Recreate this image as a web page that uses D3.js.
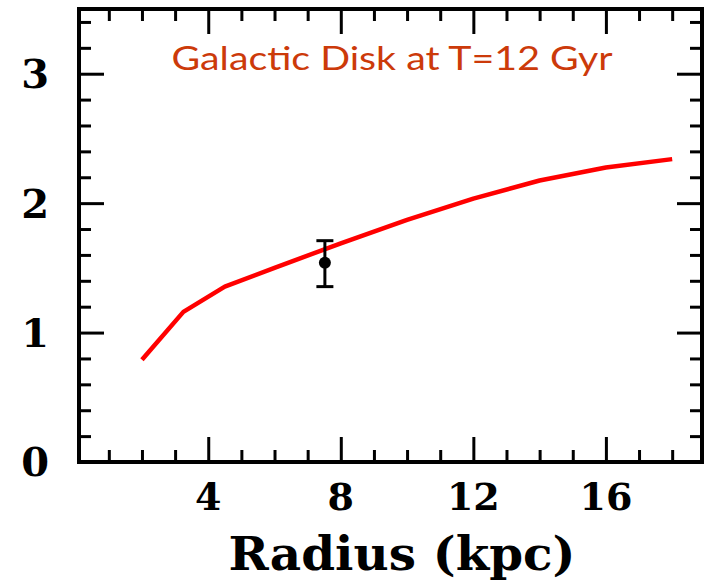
<!DOCTYPE html>
<html lang="en">
  <head>
    <meta charset="utf-8">
    <title>Galactic Disk at T=12 Gyr</title>
    <script src="https://cdn.jsdelivr.net/npm/d3@7"></script>
    <style>
      body { margin: 0; background: #fff; }
    </style>
  </head>
  <body>
    <div id="main"></div>
  </body>

  <script type="text/javascript">

      // model curve (radius in kpc)
      const radius = [2, 3.25, 4.5, 6, 8, 10, 12, 14, 16, 18];
      const model  = [0.79, 1.16, 1.355, 1.50, 1.69, 1.87, 2.035, 2.175, 2.275, 2.34];

      // observed point with error bar
      const obsR   = [7.52];
      const obsVal = [1.54];
      const obsLo  = [1.355];
      const obsHi  = [1.71];

      const xMajor = [4, 8, 12, 16];
      const yMajor = [0, 1, 2, 3];
      const xMinor = d3.range(1, 19).filter(d => d % 4 !== 0);
      const yMinor = d3.range(1, 18).map(d => d * 0.2).filter(d => Math.abs(d - Math.round(d)) > 0.01);

      const title = "Galactic Disk at T=12 Gyr";
      const xTitle = "Radius (kpc)";

      const W = 709, H = 581;
      const mLeft = 79, mRight = 702, mTop = 9, mBottom = 462;

      const svg = d3.select("#main").append("svg")
        .attr("width", W)
        .attr("height", H);

      const x = d3.scaleLinear().domain([0.1, 18.9]).range([mLeft, mRight]);
      const y = d3.scaleLinear().domain([0, 3.5]).range([mBottom, mTop]);

      // ticks, pointing inward on all four sides
      function tickAxis(axis, tx, ty, vals, len) {
        const g = svg.append("g")
          .attr("transform", `translate(${tx},${ty})`)
          .call(axis.tickValues(vals).tickSize(-len).tickSizeOuter(0).tickFormat(""));
        g.select(".domain").remove();
        g.selectAll("line").attr("stroke", "#000").attr("stroke-width", 3);
      }
      tickAxis(d3.axisBottom(x), 0, mBottom, xMajor, 25);
      tickAxis(d3.axisBottom(x), 0, mBottom, xMinor, 12);
      tickAxis(d3.axisTop(x), 0, mTop, xMajor, 25);
      tickAxis(d3.axisTop(x), 0, mTop, xMinor, 12);
      tickAxis(d3.axisLeft(y), mLeft, 0, yMajor.filter(d => d > 0), 25);
      tickAxis(d3.axisLeft(y), mLeft, 0, yMinor, 12);
      tickAxis(d3.axisRight(y), mRight, 0, yMajor.filter(d => d > 0), 25);
      tickAxis(d3.axisRight(y), mRight, 0, yMinor, 12);

      // frame
      svg.append("rect")
        .attr("x", mLeft).attr("y", mTop)
        .attr("width", mRight - mLeft).attr("height", mBottom - mTop)
        .attr("fill", "none")
        .attr("stroke", "#000")
        .attr("stroke-width", 4);

      // tick labels
      svg.selectAll("text.xlab")
        .data(xMajor)
        .enter()
        .append("text")
        .attr("class", "xlab")
        .attr("x", d => x(d))
        .attr("y", 510)
        .attr("text-anchor", "middle")
        .attr("font-family", "DejaVu Serif")
        .attr("font-weight", "bold")
        .attr("font-size", "38px")
        .text(d => d);

      svg.selectAll("text.ylab")
        .data(yMajor)
        .enter()
        .append("text")
        .attr("class", "ylab")
        .attr("x", 49)
        .attr("y", d => y(d))
        .attr("dy", "0.36em")
        .attr("text-anchor", "end")
        .attr("font-family", "DejaVu Serif")
        .attr("font-weight", "bold")
        .attr("font-size", "40px")
        .text(d => d);

      svg.append("text")
        .attr("x", 402)
        .attr("y", 570)
        .attr("text-anchor", "middle")
        .attr("font-family", "DejaVu Serif")
        .attr("font-weight", "bold")
        .attr("font-size", "46px")
        .attr("textLength", 347)
        .attr("lengthAdjust", "spacingAndGlyphs")
        .text(xTitle);

      svg.append("text")
        .attr("x", 392)
        .attr("y", 70)
        .attr("text-anchor", "middle")
        .attr("font-family", "Lato")
        .attr("font-size", "32px")
        .attr("fill", "#cc3a0a")
        .attr("textLength", 441)
        .attr("lengthAdjust", "spacingAndGlyphs")
        .text(title);

      // model line
      const line = d3.line()
        .x((d, i) => x(radius[i]))
        .y(d => y(d));

      svg.append("path")
        .datum(model)
        .attr("d", line)
        .attr("fill", "none")
        .attr("stroke", "#ff0000")
        .attr("stroke-width", 4.5)
        .attr("stroke-linejoin", "round");

      // observation with error bar
      const obs = obsR.map((r, i) => ({r: r, v: obsVal[i], lo: obsLo[i], hi: obsHi[i]}));
      const og = svg.selectAll("g.obs").data(obs).enter().append("g").attr("class", "obs");
      og.append("line")
        .attr("x1", d => x(d.r)).attr("x2", d => x(d.r))
        .attr("y1", d => y(d.lo)).attr("y2", d => y(d.hi))
        .attr("stroke", "#000").attr("stroke-width", 3);
      og.append("line")
        .attr("x1", d => x(d.r) - 8.5).attr("x2", d => x(d.r) + 8.5)
        .attr("y1", d => y(d.hi)).attr("y2", d => y(d.hi))
        .attr("stroke", "#000").attr("stroke-width", 3);
      og.append("line")
        .attr("x1", d => x(d.r) - 8.5).attr("x2", d => x(d.r) + 8.5)
        .attr("y1", d => y(d.lo)).attr("y2", d => y(d.lo))
        .attr("stroke", "#000").attr("stroke-width", 3);
      og.append("circle")
        .attr("cx", d => x(d.r))
        .attr("cy", d => y(d.v))
        .attr("r", 6)
        .attr("fill", "#000");

  </script>
</html>
